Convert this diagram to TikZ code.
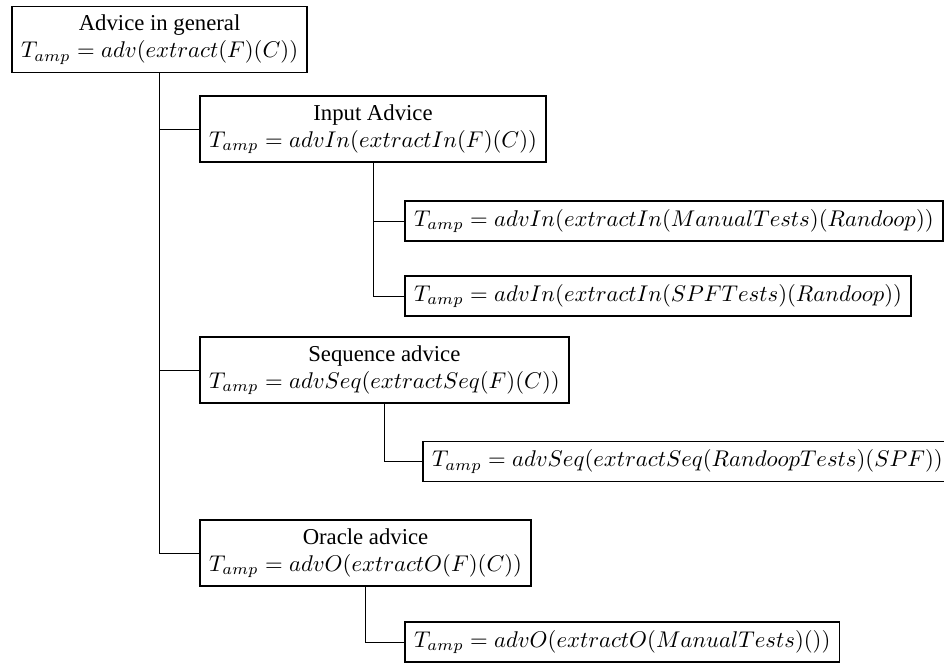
\documentclass[tikz,border=0pt]{standalone}
\usepackage{fontspec}
\setmainfont{Liberation Serif}
\begin{document}
\begin{tikzpicture}[x=0.44pt,y=-0.44pt]
\tikzset{advbox/.style={draw, thick, align=center, inner xsep=4pt, inner ysep=3.6pt, anchor=west}}
\useasboundingbox (0,0) rectangle (944,664);
\node[advbox] (general) at (11,39.5){Advice in general\\$T_{amp} = adv(extract(F)(C))$};
\node[advbox] (inadv) at (199,129){Input Advice\\$T_{amp} = advIn(extractIn(F)(C))$};
\node[advbox] (inmanual) at (404,221){$T_{amp} = advIn(extractIn(ManualTests)(Randoop))$};
\node[advbox] (inspf) at (404,296){$T_{amp} = advIn(extractIn(SPFTests)(Randoop))$};
\node[advbox] (seqadv) at (199,370){Sequence advice\\$T_{amp} = advSeq(extractSeq(F)(C))$};
\node[advbox] (seqrandoop) at (422,461.5){$T_{amp} = advSeq(extractSeq(RandoopTests)(SPF))$};
\node[advbox] (oradv) at (199,553){Oracle advice\\$T_{amp} = advO(extractO(F)(C))$};
\node[advbox] (ormanual) at (404,642){$T_{amp} = advO(extractO(ManualTests)())$};
\draw[](general.south) |- (inadv.west);
\draw[](general.south) |- (seqadv.west);
\draw[](general.south) |- (oradv.west);
\draw[](inadv.south) |- (inmanual.west);
\draw[](inadv.south) |- (inspf.west);
\draw[](seqadv.south) |- (seqrandoop.west);
\draw[](oradv.south) |- (ormanual.west);
\end{tikzpicture}
\end{document}
